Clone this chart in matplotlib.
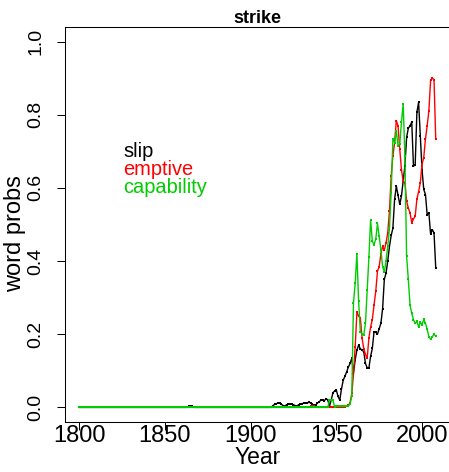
import matplotlib
matplotlib.use("Agg")
import matplotlib.pyplot as plt

plt.rcParams['font.family'] = ['Liberation Sans', 'DejaVu Sans']

# yearly word probabilities for "strike"; everything before the first listed year is flat zero
years = list(range(1800, 2009))

slip_start = 1912
slip_vals = [0.0, 0.005, 0.008, 0.01, 0.012, 0.012, 0.008, 0.005, 0.004, 0.007,
             0.009, 0.008, 0.01, 0.007, 0.005, 0.004, 0.007, 0.008, 0.01, 0.012,
             0.013, 0.012, 0.014, 0.012, 0.008, 0.006, 0.006, 0.012, 0.015, 0.02,
             0.02, 0.018, 0.024, 0.02, 0.003, 0.02, 0.04, 0.045, 0.047, 0.03,
             0.02, 0.05, 0.074, 0.085, 0.097, 0.11, 0.12, 0.134, 0.094, 0.13,
             0.157, 0.17, 0.16, 0.157, 0.152, 0.12, 0.108, 0.108, 0.14, 0.161,
             0.207, 0.205, 0.2, 0.215, 0.23, 0.27, 0.35, 0.367, 0.4, 0.44,
             0.47, 0.49, 0.569, 0.605, 0.58, 0.555, 0.578, 0.62, 0.66, 0.738,
             0.763, 0.77, 0.78, 0.66, 0.662, 0.807, 0.834, 0.743, 0.65, 0.596,
             0.582, 0.527, 0.532, 0.473, 0.486, 0.477, 0.381]
slip_bump_years = [1864, 1865, 1866]
slip_bump_vals = [0.003, 0.003, 0.003]

emptive_start = 1935
emptive_vals = [0.003, 0.005, 0.003, 0.0, 0.0, 0.0, 0.0, 0.0, 0.0, 0.0,
                0.0, 0.0, 0.0, 0.0, 0.0, 0.0, 0.0, 0.0, 0.0, 0.0,
                0.002, 0.004, 0.006, 0.012, 0.038, 0.09, 0.166, 0.26, 0.25, 0.245,
                0.19, 0.16, 0.145, 0.134, 0.19, 0.22, 0.24, 0.28, 0.317, 0.372,
                0.385, 0.42, 0.44, 0.43, 0.45, 0.477, 0.537, 0.633, 0.688, 0.724,
                0.784, 0.77, 0.706, 0.65, 0.619, 0.614, 0.564, 0.545, 0.532, 0.505,
                0.515, 0.523, 0.569, 0.59, 0.614, 0.665, 0.683, 0.734, 0.77, 0.811,
                0.894, 0.9, 0.896, 0.733]

capability_start = 1946
capability_vals = [0.019, 0.019, 0.019, 0.002, 0.003, 0.003, 0.003, 0.003, 0.003, 0.003,
                   0.003, 0.003, 0.01, 0.03, 0.285, 0.34, 0.42, 0.29, 0.207, 0.2,
                   0.198, 0.23, 0.32, 0.41, 0.513, 0.454, 0.445, 0.46, 0.503, 0.468,
                   0.43, 0.385, 0.37, 0.4, 0.44, 0.49, 0.587, 0.733, 0.724, 0.756,
                   0.715, 0.72, 0.78, 0.83, 0.688, 0.413, 0.35, 0.28, 0.257, 0.24,
                   0.23, 0.235, 0.22, 0.234, 0.225, 0.241, 0.23, 0.213, 0.193, 0.186,
                   0.193, 0.2, 0.195]

words = ['slip', 'emptive', 'capability']
colors = ['#000000', '#FF0000', '#00CD00']


def full_series(start, vals, extra_years=(), extra_vals=()):
    series = [0.0] * (start - years[0]) + list(vals)
    for y, v in zip(extra_years, extra_vals):
        series[y - years[0]] = v
    return series


slip = full_series(slip_start, slip_vals, slip_bump_years, slip_bump_vals)
emptive = full_series(emptive_start, emptive_vals)
capability = full_series(capability_start, capability_vals)

fig = plt.figure(figsize=(4.49, 4.72), dpi=100)
ax = fig.add_axes([65 / 449, 50 / 472, 385 / 449, 395 / 472])

for series, col in zip([slip, emptive, capability], colors):
    ax.plot(years, series, color=col, lw=1.0, marker='s', ms=1.6, mew=0)

ax.set_xlim(1791.68, 2016.32)
ax.set_ylim(-0.04, 1.04)
ax.set_xticks([1800, 1850, 1900, 1950, 2000])
ax.set_yticks([0.0, 0.2, 0.4, 0.6, 0.8, 1.0])
ax.set_yticklabels(['0.0', '0.2', '0.4', '0.6', '0.8', '1.0'])

for sp in ax.spines.values():
    sp.set_linewidth(0.75)
ax.tick_params(length=5.8, width=0.75)
ax.tick_params(axis='x', labelsize=17, pad=-4)
ax.tick_params(axis='y', labelsize=14, labelrotation=90, pad=9)
for lab in ax.get_yticklabels():
    lab.set_va('center')

ax.set_xlabel('Year', fontsize=16.5, labelpad=0)
ax.set_ylabel('word probs', fontsize=17)
ax.yaxis.set_label_coords(-0.101, 0.476)
ax.set_title('strike', fontsize=13, fontweight='bold', pad=3)

for i, (w, col) in enumerate(zip(words, colors)):
    fig.text(123 / 449, 1 - (157 + 18 * i) / 472, w, color=col, fontsize=14.4, va='baseline')

fig.savefig('out.png', dpi=100)
